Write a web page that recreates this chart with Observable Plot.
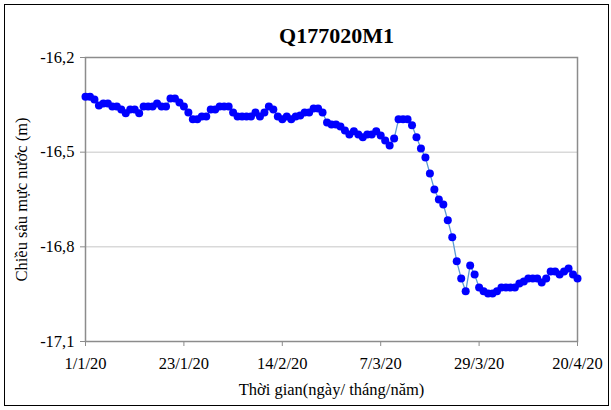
<!DOCTYPE html>
<html>
<head>
<meta charset="utf-8">
<script src="https://cdn.jsdelivr.net/npm/d3@7"></script>
<script src="https://cdn.jsdelivr.net/npm/@observablehq/plot@0.6"></script>
<style>
  body { margin: 0; background: #fff; }
  #wrap { position: relative; width: 611px; height: 410px; }
  #border { position: absolute; left: 4px; top: 4px; width: 603px; height: 400px; border: 1px solid #000; pointer-events: none; }
</style>
</head>
<body>
<div id="wrap"><div id="border"></div></div>
<script>
const title = "Q177020M1";
const yLabel = "Chiều sâu mực nước (m)";
const xLabel = "Thời gian(ngày/ tháng/năm)";
const startDate = [2020, 0, 1];
const depth = [
  -16.324, -16.324, -16.333, -16.352, -16.346, -16.346, -16.355, -16.355, -16.365, -16.377,
  -16.365, -16.365, -16.377, -16.355, -16.355, -16.355, -16.346, -16.355, -16.355, -16.330,
  -16.330, -16.343, -16.355, -16.374, -16.396, -16.396, -16.387, -16.387, -16.365, -16.365,
  -16.355, -16.355, -16.355, -16.374, -16.387, -16.387, -16.387, -16.387, -16.374, -16.387,
  -16.374, -16.355, -16.365, -16.387, -16.396, -16.387, -16.396, -16.387, -16.384, -16.374,
  -16.374, -16.362, -16.362, -16.374, -16.406, -16.412, -16.412, -16.419, -16.431, -16.444,
  -16.434, -16.444, -16.453, -16.444, -16.444, -16.434, -16.447, -16.463, -16.479, -16.457,
  -16.396, -16.396, -16.396, -16.415, -16.453, -16.488, -16.517, -16.568, -16.618, -16.650,
  -16.666, -16.716, -16.770, -16.846, -16.900, -16.941, -16.859, -16.888, -16.929, -16.941,
  -16.948, -16.948, -16.941, -16.929, -16.929, -16.929, -16.929, -16.916, -16.910, -16.900,
  -16.900, -16.900, -16.913, -16.900, -16.878, -16.878, -16.888, -16.878, -16.869, -16.888,
  -16.900
];
const xTicks = ["2020-01-01", "2020-01-23", "2020-02-14", "2020-03-07", "2020-03-29", "2020-04-20"];
const yTicks = [-16.2, -16.5, -16.8, -17.1];
const gridValues = [-16.5, -16.8];

const t0 = Date.UTC(...startDate);
const data = depth.map((v, i) => ({ date: new Date(t0 + i * 86400000), v }));
const xTickDates = xTicks.map(s => new Date(s + "T00:00:00Z"));
const fmtDate = d => `${d.getUTCDate()}/${d.getUTCMonth() + 1}/20`;
const fmtNum = v => String(v).replace(".", ",");

const font = "'Liberation Serif', 'Times New Roman', serif";

const chart = Plot.plot({
  width: 611,
  height: 410,
  marginLeft: 85,
  marginRight: 34,
  marginTop: 57,
  marginBottom: 69,
  style: { fontFamily: font, fontSize: "16.5px", color: "#000", background: "transparent" },
  x: {
    type: "utc",
    domain: [xTickDates[0], xTickDates[xTickDates.length - 1]],
    ticks: xTickDates,
    tickFormat: fmtDate,
    tickSize: 5,
    tickPadding: 11,
    label: xLabel,
    labelAnchor: "center",
    labelArrow: "none",
    labelOffset: 53
  },
  y: {
    domain: [-17.1, -16.2],
    ticks: yTicks,
    tickFormat: fmtNum,
    tickSize: 5,
    tickPadding: 6,
    label: yLabel,
    labelAnchor: "center",
    labelArrow: "none",
    labelOffset: 70
  },
  marks: [
    Plot.ruleY(gridValues, { stroke: "#d9d9d9", strokeWidth: 1.5 }),
    Plot.frame({ stroke: "#8c8c8c", strokeWidth: 1.5 }),
    Plot.line(data, { x: "date", y: "v", stroke: "#5b9bd5", strokeWidth: 1.3 }),
    Plot.dot(data, { x: "date", y: "v", r: 4, fill: "#0000ff", stroke: "none" }),
    Plot.text([title], { frameAnchor: "top", lineAnchor: "middle", dy: -22, dx: 5, fontSize: 22, fontWeight: "bold", fill: "#000" })
  ]
});
chart.querySelectorAll('[aria-label="x-axis tick"], [aria-label="y-axis tick"]').forEach(g => g.setAttribute("stroke", "#8c8c8c"));
document.getElementById("wrap").prepend(chart);
</script>
</body>
</html>
